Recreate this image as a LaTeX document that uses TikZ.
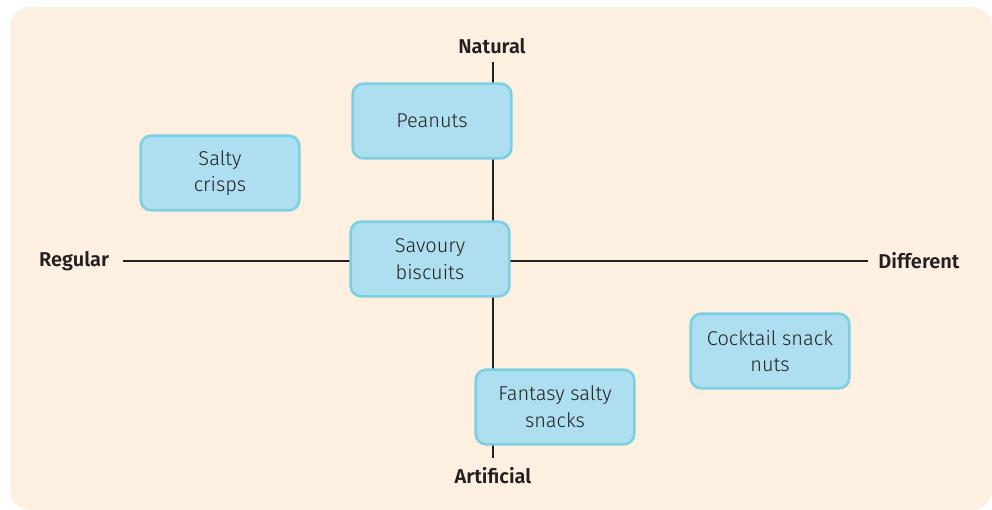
\documentclass[tikz,border=0pt]{standalone}
\usepackage{fontspec}
\setmainfont{Fira Sans Light}[BoldFont=Fira Sans SemiBold]
\definecolor{paper}{HTML}{FDF0E1}
\definecolor{boxfill}{HTML}{ADDFF0}
\definecolor{boxline}{HTML}{7DD0E2}
\definecolor{ink}{HTML}{231F20}
\tikzset{
  snack/.style={draw=boxline, fill=boxfill, line width=2pt, rounded corners=8,
    minimum width=119pt, minimum height=56pt, align=center, text=ink,
    font=\fontsize{15}{20}\selectfont},
  pole/.style={text=ink, font=\fontsize{15}{18}\selectfont\bfseries},
  axis/.style={draw=ink, line width=0.9pt}
}
\begin{document}
\begin{tikzpicture}[x=0.75pt, y=-0.75pt]
  \useasboundingbox (0,0) rectangle (992,510);
  % fondo
  \fill[paper, rounded corners=15] (10,7) rectangle (992,510);
  % los cuatro extremos
  \node[pole] (natural) at (492,46) {Natural};
  \node[pole] (artificial) at (493,476) {Artificial};
  \node[pole] (regular) at (74,261) {Regular};
  \node[pole] (different) at (919,261) {Different};
  \coordinate (top) at (493,62);
  \coordinate (bottom) at (493,458);
  \coordinate (left) at (123,261);
  \coordinate (right) at (868,261);
  % los ejes
  \draw[axis] (top) -- (bottom);
  \draw[axis] (left) -- (right);
  % las cajas
  \node[snack] (peanuts) at (432,121) {Peanuts};
  \node[snack] (crisps) at (220,173) {Salty\\crisps};
  \node[snack] (biscuits) at (430,259) {Savoury\\biscuits};
  \node[snack] (nuts) at (770,351) {Cocktail snack\\nuts};
  \node[snack] (fantasy) at (555,407) {Fantasy salty\\snacks};
\end{tikzpicture}
\end{document}
